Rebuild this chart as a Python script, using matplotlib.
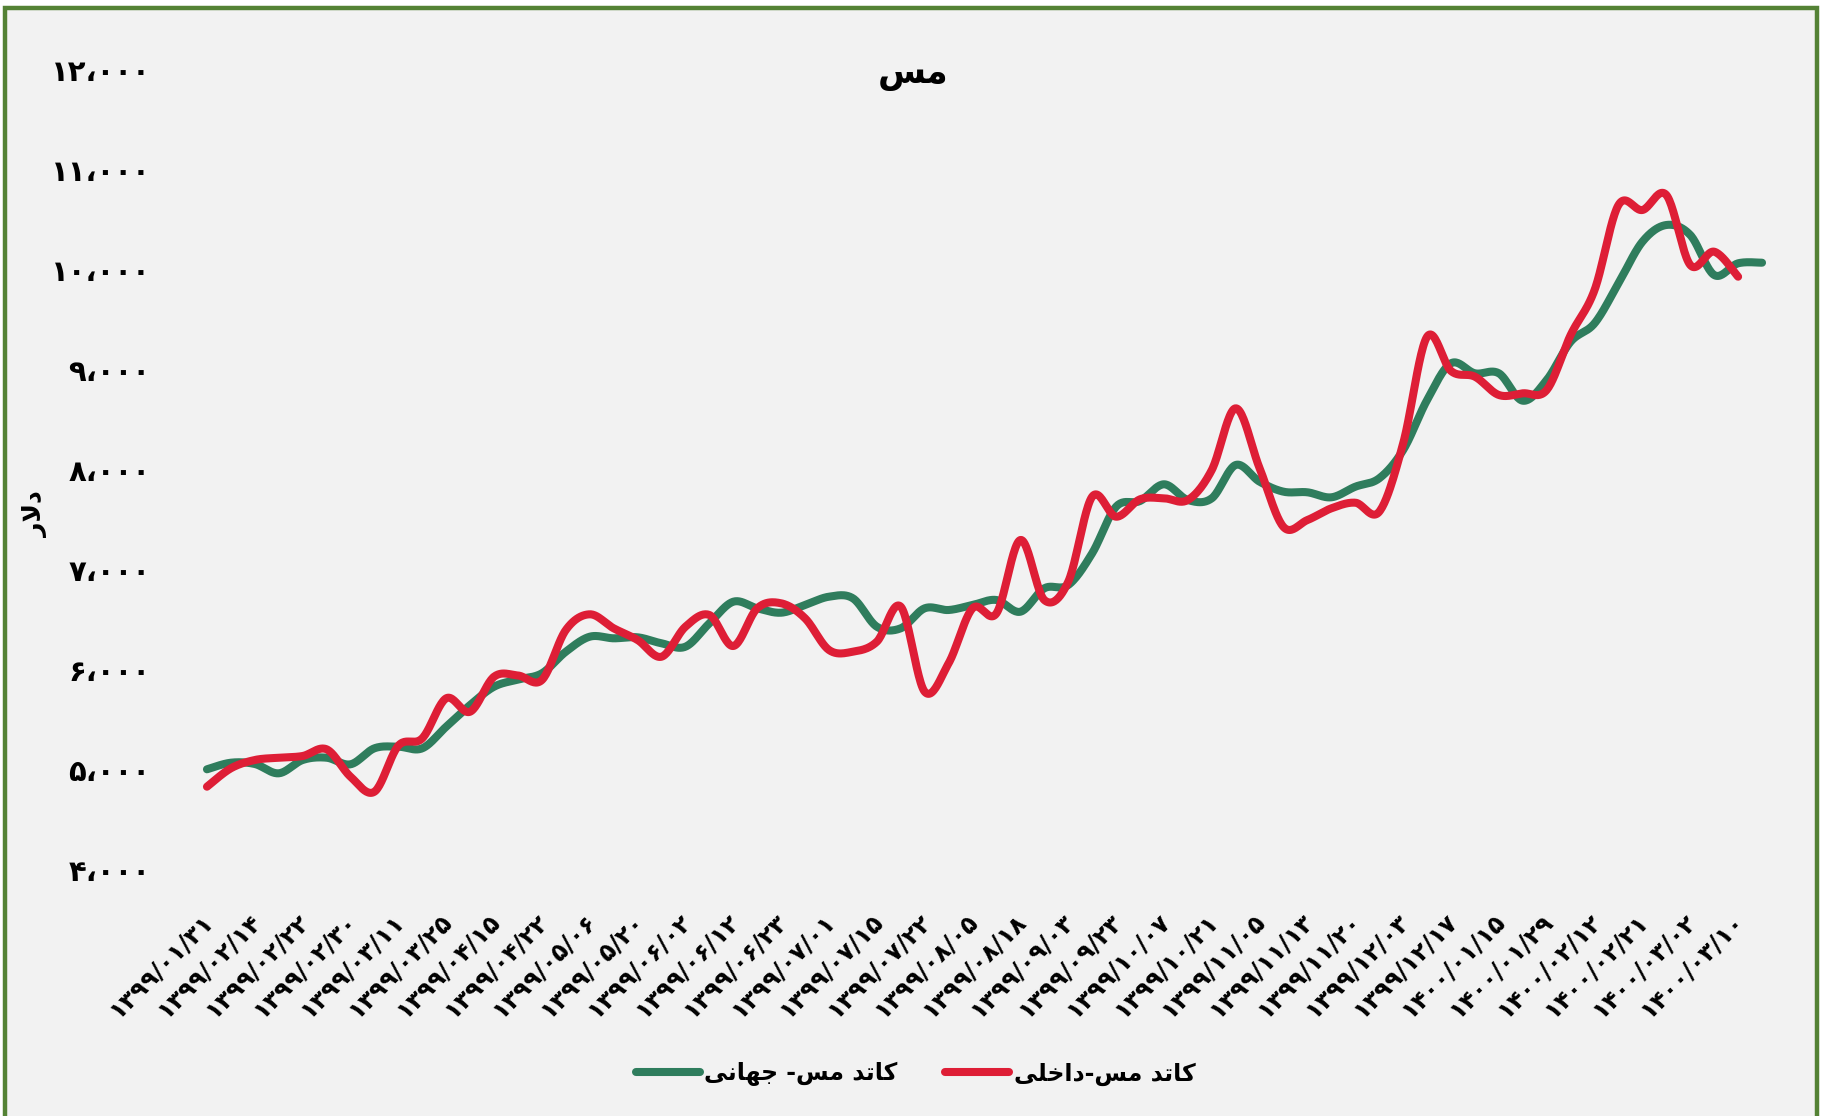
import numpy as np
import matplotlib
matplotlib.use("Agg")
import matplotlib.pyplot as plt
from matplotlib.lines import Line2D
from matplotlib.patches import Rectangle
from matplotlib.ticker import FixedLocator, FuncFormatter
from matplotlib.transforms import ScaledTranslation

# ---------------------------------------------------------------- data
title = "مس"
y_label = "دلار"
series_names = ["کاتد مس- جهانی", "کاتد مس-داخلی"]

tick_dates = [
    "۱۳۹۹/۰۱/۳۱", "۱۳۹۹/۰۲/۱۴", "۱۳۹۹/۰۲/۲۲", "۱۳۹۹/۰۲/۳۰", "۱۳۹۹/۰۳/۱۱",
    "۱۳۹۹/۰۳/۲۵", "۱۳۹۹/۰۴/۱۵", "۱۳۹۹/۰۴/۲۲", "۱۳۹۹/۰۵/۰۶", "۱۳۹۹/۰۵/۲۰",
    "۱۳۹۹/۰۶/۰۲", "۱۳۹۹/۰۶/۱۲", "۱۳۹۹/۰۶/۲۳", "۱۳۹۹/۰۷/۰۱", "۱۳۹۹/۰۷/۱۵",
    "۱۳۹۹/۰۷/۲۲", "۱۳۹۹/۰۸/۰۵", "۱۳۹۹/۰۸/۱۸", "۱۳۹۹/۰۹/۰۳", "۱۳۹۹/۰۹/۲۳",
    "۱۳۹۹/۱۰/۰۷", "۱۳۹۹/۱۰/۲۱", "۱۳۹۹/۱۱/۰۵", "۱۳۹۹/۱۱/۱۳", "۱۳۹۹/۱۱/۲۰",
    "۱۳۹۹/۱۲/۰۳", "۱۳۹۹/۱۲/۱۷", "۱۴۰۰/۰۱/۱۵", "۱۴۰۰/۰۱/۲۹", "۱۴۰۰/۰۲/۱۲",
    "۱۴۰۰/۰۲/۲۱", "۱۴۰۰/۰۳/۰۲", "۱۴۰۰/۰۳/۱۰",
]
label_every = 2  # one date label for every second observation

world_price = [
    5007, 5073, 5060, 4967, 5100, 5123, 5057, 5217, 5233, 5217,
    5433, 5650, 5833, 5905, 5967, 6183, 6333, 6317, 6327, 6267,
    6233, 6467, 6683, 6617, 6573, 6650, 6733, 6717, 6433, 6417,
    6617, 6600, 6650, 6700, 6583, 6817, 6850, 7167, 7633, 7690,
    7857, 7700, 7717, 8050, 7883, 7783, 7777, 7727, 7833, 7917,
    8200, 8700, 9067, 8967, 8967, 8693, 8900, 9283, 9467, 9867,
    10283, 10450, 10350, 9950, 10067, 10073,
]
domestic_price = [
    4833, 5017, 5100, 5123, 5140, 5207, 4933, 4783, 5243, 5317,
    5717, 5583, 5933, 5945, 5900, 6400, 6557, 6417, 6300, 6133,
    6433, 6550, 6240, 6617, 6667, 6517, 6200, 6183, 6283, 6633,
    5783, 6067, 6617, 6567, 7300, 6700, 6883, 7733, 7533, 7707,
    7717, 7700, 8000, 8617, 8017, 7430, 7500, 7617, 7673, 7583,
    8267, 9333, 8990, 8933, 8750, 8767, 8800, 9350, 9800, 10650,
    10600, 10750, 10050, 10183, 9933,
]
y_ticks = [4000, 5000, 6000, 7000, 8000, 9000, 10000, 11000, 12000]

# ---------------------------------------------------------------- styles
GREEN = "#2F7D5D"
RED = "#DE1E36"
FRAME = "#548235"
BG = "#F2F2F2"
FONT = ["DejaVu Sans"]
LW = 5.8

W, H = 1824, 1116


# ---------------------------------------------------------------- helpers
_FORMS = {  # isolated, final, initial, medial
    "ا": ("\uFE8D", "\uFE8E", None, None),
    "د": ("\uFEA9", "\uFEAA", None, None),
    "ر": ("\uFEAD", "\uFEAE", None, None),
    "لا": ("\uFEFB", "\uFEFC", None, None),
    "م": ("\uFEE1", "\uFEE2", "\uFEE3", "\uFEE4"),
    "س": ("\uFEB1", "\uFEB2", "\uFEB3", "\uFEB4"),
    "ل": ("\uFEDD", "\uFEDE", "\uFEDF", "\uFEE0"),
    "ک": ("\uFB8E", "\uFB8F", "\uFB90", "\uFB91"),
    "ت": ("\uFE95", "\uFE96", "\uFE97", "\uFE98"),
    "ج": ("\uFE9D", "\uFE9E", "\uFE9F", "\uFEA0"),
    "ه": ("\uFEE9", "\uFEEA", "\uFEEB", "\uFEEC"),
    "ن": ("\uFEE5", "\uFEE6", "\uFEE7", "\uFEE8"),
    "ی": ("\uFEEF", "\uFEF0", "\uFEF3", "\uFEF4"),
    "خ": ("\uFEA5", "\uFEA6", "\uFEA7", "\uFEA8"),
}


def rtl(text):
    """Join Persian letters into contextual forms and lay them out right-to-left."""
    tokens = []
    i = 0
    while i < len(text):
        if text[i] == "ل" and i + 1 < len(text) and text[i + 1] == "ا":
            tokens.append("لا")
            i += 2
        else:
            tokens.append(text[i])
            i += 1
    out = []
    for k, tok in enumerate(tokens):
        if tok not in _FORMS:
            out.append(tok)
            continue
        prev = tokens[k - 1] if k > 0 else None
        nxt = tokens[k + 1] if k + 1 < len(tokens) else None
        join_prev = prev in _FORMS and _FORMS[prev][2] is not None
        join_next = _FORMS[tok][2] is not None and nxt in _FORMS
        iso, fin, ini, med = _FORMS[tok]
        if join_prev and join_next:
            out.append(med)
        elif join_prev:
            out.append(fin)
        elif join_next:
            out.append(ini)
        else:
            out.append(iso)
    return "".join(reversed(out))


def fa_number(v):
    s = f"{int(round(v)):,}"
    return s.translate(str.maketrans("0123456789,", "۰۱۲۳۴۵۶۷۸۹،"))


def smooth(ys, steps=24):
    """Cubic Bezier smoothing through every point (Catmull-Rom style)."""
    ys = np.asarray(ys, float)
    xs = np.arange(len(ys), dtype=float)
    px = np.concatenate([[xs[0]], xs, [xs[-1]]])
    py = np.concatenate([[ys[0]], ys, [ys[-1]]])
    t = np.linspace(0, 1, steps, endpoint=False)
    sx, sy = [], []
    for k in range(len(ys) - 1):
        p0x, p0y = px[k + 1], py[k + 1]
        p3x, p3y = px[k + 2], py[k + 2]
        c1x = p0x + (px[k + 2] - px[k]) / 6
        c1y = p0y + (py[k + 2] - py[k]) / 6
        c2x = p3x - (px[k + 3] - px[k + 1]) / 6
        c2y = p3y - (py[k + 3] - py[k + 1]) / 6
        a, b, c, d = (1 - t) ** 3, 3 * (1 - t) ** 2 * t, 3 * (1 - t) * t ** 2, t ** 3
        sx.append(a * p0x + b * c1x + c * c2x + d * p3x)
        sy.append(a * p0y + b * c1y + c * c2y + d * p3y)
    sx.append([xs[-1]])
    sy.append([ys[-1]])
    return np.concatenate(sx), np.concatenate(sy)


# ---------------------------------------------------------------- figure
fig = plt.figure(figsize=(W / 100, H / 100), dpi=100, facecolor="white")
fig.patches.append(Rectangle((5 / W, -0.02), (1817 - 5) / W, 1.02 - 8 / H,
                             transform=fig.transFigure, facecolor=BG,
                             edgecolor=FRAME, linewidth=3.2, zorder=-10))

n_pts = len(world_price)
left_px, right_px = 195, 1774
ax = fig.add_axes([left_px / W, 1 - 870 / H, (right_px - left_px) / W, 800 / H])
ax.set_zorder(2)
ax.set_facecolor("none")
ax.set_xlim(-0.5, n_pts - 0.5)
ax.set_ylim(y_ticks[0], y_ticks[-1])
for s in ax.spines.values():
    s.set_visible(False)

gx, gy = smooth(world_price)
rx, ry = smooth(domestic_price)
ax.plot(gx, gy, color=GREEN, lw=LW, solid_capstyle="round", solid_joinstyle="round", zorder=3)
ax.plot(rx, ry, color=RED, lw=LW, solid_capstyle="round", solid_joinstyle="round", zorder=4)

# y axis
ax.yaxis.set_major_locator(FixedLocator(y_ticks))
ax.yaxis.set_major_formatter(FuncFormatter(lambda v, p: fa_number(v)))
ax.tick_params(axis="y", length=0, pad=32)
for lab in ax.get_yticklabels():
    lab.set_fontfamily(FONT)
    lab.set_fontsize(21)
    lab.set_fontweight("bold")

# x axis
tick_pos = np.arange(0, len(tick_dates) * label_every, label_every)
ax.set_xticks(tick_pos)
ax.set_xticklabels(tick_dates, rotation=45, ha="right", va="center",
                   rotation_mode="anchor", fontsize=17.5, fontweight="bold",
                   fontfamily=FONT)
ax.tick_params(axis="x", length=0, pad=34)
shift = ScaledTranslation(2 / 100, 0, fig.dpi_scale_trans)
for lab in ax.get_xticklabels():
    lab.set_transform(lab.get_transform() + shift)

# texts
fig.text(913 / W, 1 - 74 / H, rtl(title), ha="center", va="center",
         fontsize=25, fontweight="bold", fontfamily=FONT)
fig.text(36 / W, 1 - 514 / H, rtl(y_label), ha="center", va="center",
         rotation=90, fontsize=18, fontweight="bold", fontfamily=FONT)

handles = [Line2D([], [], color=GREEN, lw=LW, solid_capstyle="round"),
           Line2D([], [], color=RED, lw=LW, solid_capstyle="round")]
fig.legend(handles, [rtl(n) for n in series_names], loc="center",
           bbox_to_anchor=(0.502, 1 - 1074 / H), ncol=2, frameon=False,
           handlelength=2.7, handletextpad=0.2, columnspacing=2.0,
           prop={"family": FONT, "size": 17, "weight": "bold"})

fig.savefig("out.png", dpi=100, facecolor=fig.get_facecolor())
